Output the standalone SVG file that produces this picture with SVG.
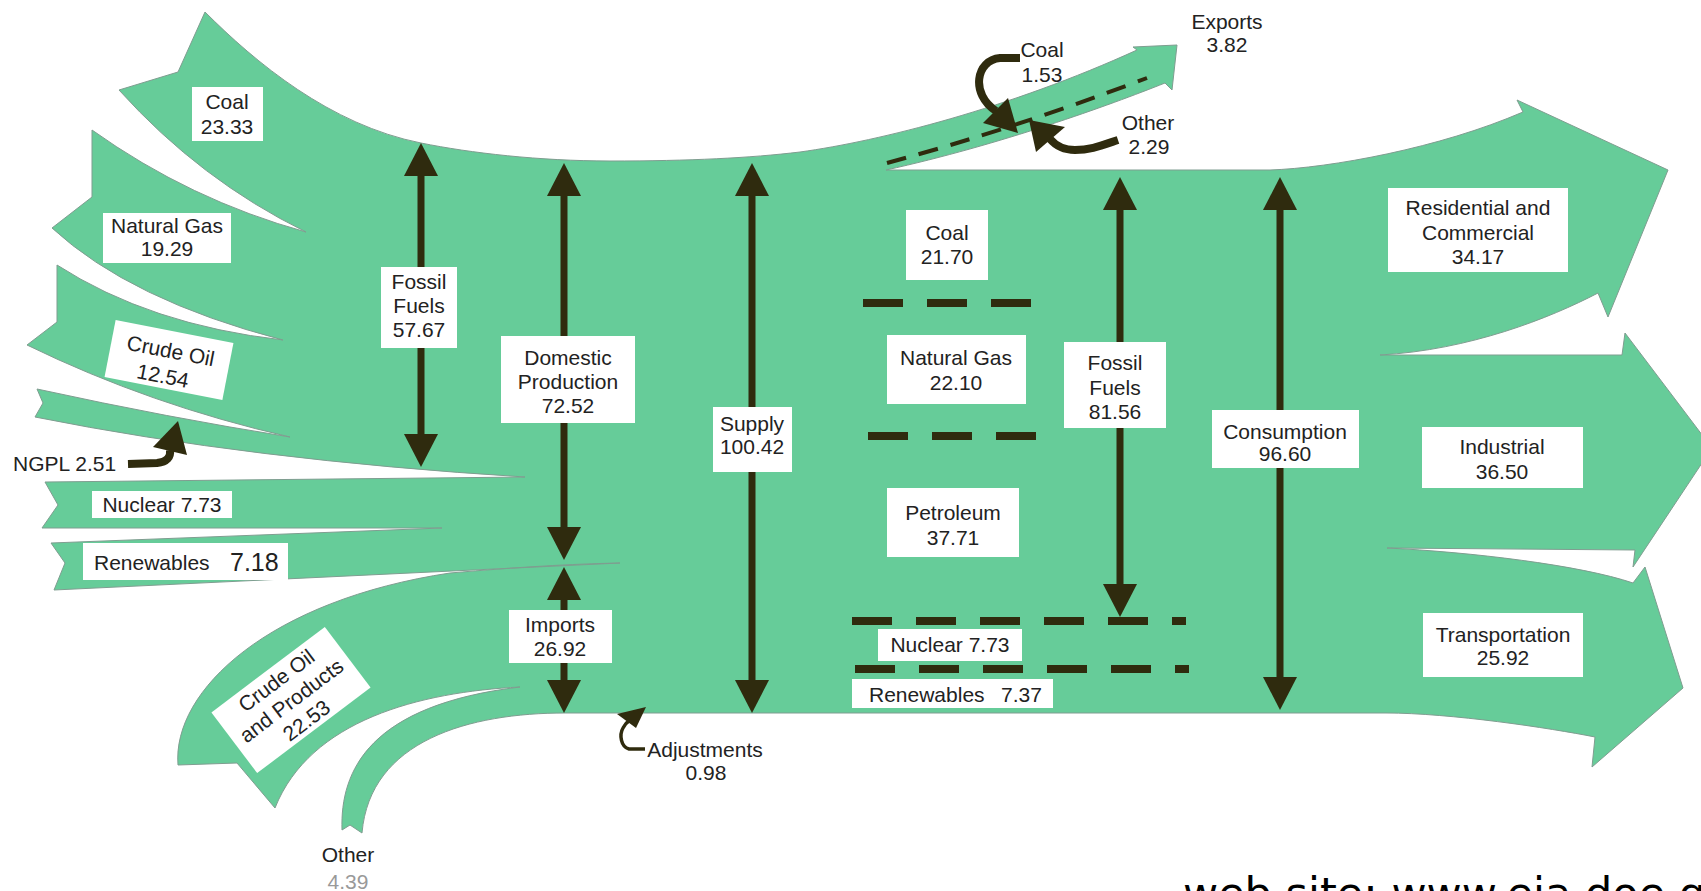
<svg xmlns="http://www.w3.org/2000/svg" width="1701" height="891" viewBox="0 0 1701 891">
<defs>
<style>
.flow{fill:#66cc99;stroke:#7f9d90;stroke-width:1;stroke-linejoin:miter}
.box{fill:#ffffff}
.t{font-family:"Liberation Sans",Arial,sans-serif;font-size:21px;fill:#222222;text-anchor:middle}
.ts{text-anchor:start}
.dim{stroke:#2f2b0e;stroke-width:7;fill:none}
.sep{stroke:#2f2b0e;stroke-width:8;fill:none;stroke-dasharray:40 24}
.curve{stroke:#2f2b0e;stroke-width:8;fill:none}
.head{fill:#2f2b0e}
</style>
<marker id="ah" markerUnits="userSpaceOnUse" markerWidth="36" markerHeight="38" viewBox="0 -19 36 38" refX="0" refY="0" orient="auto-start-reverse">
<path d="M0,-17 L33,0 L0,17 Z" fill="#2f2b0e"/>
</marker>
</defs>
<rect width="1701" height="891" fill="#ffffff"/>

<g id="flow-shape">
<path class="flow" d="M205,12 C255,62 330,125 421,143 C470,153 540,161 610,161 C690,161 750,158 800,152 C880,141 1010,108 1137,50 L1133,47 L1177,45 L1172,90 L1165,83 C1110,105 1000,145 886,170 L1270,170 C1330,168 1440,148 1523,112 L1517,100 L1668,170 L1608,317 L1598,293 C1550,318 1470,350 1380,355 L1622,355 L1625,333 L1712,448 L1633,567 L1635,550 L1387,548 C1470,552 1580,565 1633,583 L1645,567 L1683,688 L1592,767 L1595,737 C1550,728 1450,713 1386,713 L565,713 C470,713 370,740 362,833 L350,825 L342,830 C340,770 370,705 520,687 C420,692 310,720 275,808 L237,763 L178,765 C172,690 270,600 450,573 C520,567 570,564 620,563 L54,590 L65,563 L51,543 L442,528 L42,528 L58,505 L45,482 L525,477 Q250,460 35,417 L43,403 L37,389 Q170,418 290,437 Q150,405 27,345 L57,322 L57,265 Q150,325 283,340 Q130,300 52,228 L92,197 L92,130 Q190,200 306,232 Q200,180 119,90 L178,72 Z"/>
</g>

<g id="connectors">
<line class="dim" x1="421" y1="176" x2="421" y2="434" marker-start="url(#ah)" marker-end="url(#ah)"/>
<line class="dim" x1="564" y1="196" x2="564" y2="527" marker-start="url(#ah)" marker-end="url(#ah)"/>
<line class="dim" x1="564" y1="600" x2="564" y2="680" marker-start="url(#ah)" marker-end="url(#ah)"/>
<line class="dim" x1="752" y1="196" x2="752" y2="680" marker-start="url(#ah)" marker-end="url(#ah)"/>
<line class="dim" x1="1120" y1="210" x2="1120" y2="584" marker-start="url(#ah)" marker-end="url(#ah)"/>
<line class="dim" x1="1280" y1="210" x2="1280" y2="677" marker-start="url(#ah)" marker-end="url(#ah)"/>

<path class="sep" d="M863,303 H1036"/>
<path class="sep" d="M868,436 H1040"/>
<path class="sep" d="M852,621 H1186"/>
<path class="sep" d="M855,669 H1189"/>

<path d="M887,163 Q1010,130 1147,78" stroke="#2f2b0e" stroke-width="4" fill="none" stroke-dasharray="20 13"/>

<path class="curve" d="M128,464 L157,463 C167,462 171,457 170,450"/>
<polygon class="head" points="178,421 153,447 187,455"/>

<path class="curve" d="M1020,58 L1000,58 C976,60 970,94 996,111"/>
<polygon class="head" points="1018,133 983,123 1008,98"/>

<path class="curve" d="M1118,140 C1100,146 1090,150 1075,150 C1063,150 1056,146 1050,139"/>
<polygon class="head" points="1029,120 1036,152 1065,127"/>

<path d="M645,749 L629,749 C621,747 619,735 623,728 C625,724 627,722 630,720" stroke="#2f2b0e" stroke-width="3.5" fill="none"/>
<polygon class="head" points="646,707 617,714 636,728"/>
</g>

<g id="n-coal-in"><rect class="box" x="192" y="87" width="71" height="54"/><text class="t" x="227" y="109">Coal</text><text class="t" x="227" y="134">23.33</text></g>
<g id="n-ng-in"><rect class="box" x="103" y="213" width="128" height="50"/><text class="t" x="167" y="233">Natural Gas</text><text class="t" x="167" y="256">19.29</text></g>
<g id="n-crude-in" transform="translate(169,360) rotate(11)"><rect class="box" x="-60" y="-29" width="120" height="58"/><text class="t" x="0" y="-2">Crude Oil</text><text class="t" x="-3" y="24">12.54</text></g>
<g id="n-ngpl"><text class="t ts" x="13" y="471">NGPL 2.51</text></g>
<g id="n-nuclear-in"><rect class="box" x="92" y="491" width="140" height="27"/><text class="t" x="162" y="512">Nuclear 7.73</text></g>
<g id="n-renew-in"><rect class="box" x="83" y="543" width="205" height="37"/><text class="t ts" x="94" y="570">Renewables</text><text class="t ts" x="230" y="571" style="font-size:25px">7.18</text></g>
<g id="n-fossil-in"><rect class="box" x="381" y="267" width="76" height="81"/><text class="t" x="419" y="289">Fossil</text><text class="t" x="419" y="313">Fuels</text><text class="t" x="419" y="337">57.67</text></g>
<g id="n-domestic"><rect class="box" x="501" y="336" width="134" height="87"/><text class="t" x="568" y="365">Domestic</text><text class="t" x="568" y="389">Production</text><text class="t" x="568" y="413">72.52</text></g>
<g id="n-imports"><rect class="box" x="509" y="610" width="103" height="53"/><text class="t" x="560" y="632">Imports</text><text class="t" x="560" y="656">26.92</text></g>
<g id="n-crude-imp" transform="translate(291,700) rotate(-37)"><rect class="box" x="-71" y="-38" width="142" height="76"/><text class="t" x="0" y="-17">Crude Oil</text><text class="t" x="0" y="8">and Products</text><text class="t" x="0" y="33">22.53</text></g>
<g id="n-other-imp"><text class="t" x="348" y="862">Other</text><text class="t" x="348" y="889" style="fill:#999999">4.39</text></g>
<g id="n-adjust"><text class="t" x="705" y="757">Adjustments</text><text class="t" x="706" y="780">0.98</text></g>
<g id="n-supply"><rect class="box" x="713" y="407" width="79" height="65"/><text class="t" x="752" y="431">Supply</text><text class="t" x="752" y="454">100.42</text></g>
<g id="n-exports"><text class="t" x="1227" y="29">Exports</text><text class="t" x="1227" y="52">3.82</text></g>
<g id="n-coal-exp"><text class="t" x="1042" y="57">Coal</text><text class="t" x="1042" y="82">1.53</text></g>
<g id="n-other-exp"><text class="t" x="1148" y="130">Other</text><text class="t" x="1149" y="154">2.29</text></g>
<g id="n-coal-out"><rect class="box" x="906" y="210" width="82" height="70"/><text class="t" x="947" y="240">Coal</text><text class="t" x="947" y="264">21.70</text></g>
<g id="n-ng-out"><rect class="box" x="887" y="335" width="139" height="69"/><text class="t" x="956" y="365">Natural Gas</text><text class="t" x="956" y="390">22.10</text></g>
<g id="n-petroleum"><rect class="box" x="887" y="488" width="132" height="69"/><text class="t" x="953" y="520">Petroleum</text><text class="t" x="953" y="545">37.71</text></g>
<g id="n-nuclear-out"><rect class="box" x="878" y="629" width="144" height="32"/><text class="t" x="950" y="652">Nuclear 7.73</text></g>
<g id="n-renew-out"><rect class="box" x="852" y="679" width="201" height="29"/><text class="t ts" x="869" y="702">Renewables</text><text class="t ts" x="1001" y="702">7.37</text></g>
<g id="n-fossil-out"><rect class="box" x="1064" y="342" width="102" height="86"/><text class="t" x="1115" y="370">Fossil</text><text class="t" x="1115" y="395">Fuels</text><text class="t" x="1115" y="419">81.56</text></g>
<g id="n-consumption"><rect class="box" x="1212" y="410" width="147" height="58"/><text class="t" x="1285" y="439">Consumption</text><text class="t" x="1285" y="461">96.60</text></g>
<g id="n-residential"><rect class="box" x="1388" y="188" width="180" height="84"/><text class="t" x="1478" y="215">Residential and</text><text class="t" x="1478" y="240">Commercial</text><text class="t" x="1478" y="264">34.17</text></g>
<g id="n-industrial"><rect class="box" x="1422" y="427" width="161" height="61"/><text class="t" x="1502" y="454">Industrial</text><text class="t" x="1502" y="479">36.50</text></g>
<g id="n-transport"><rect class="box" x="1423" y="613" width="160" height="64"/><text class="t" x="1503" y="642">Transportation</text><text class="t" x="1503" y="665">25.92</text></g>
<g id="n-website"><text x="1183" y="908" style="font-family:'DejaVu Sans',sans-serif;font-size:43px;fill:#000000">web site: www.eia.doe.gov</text></g>
</svg>
